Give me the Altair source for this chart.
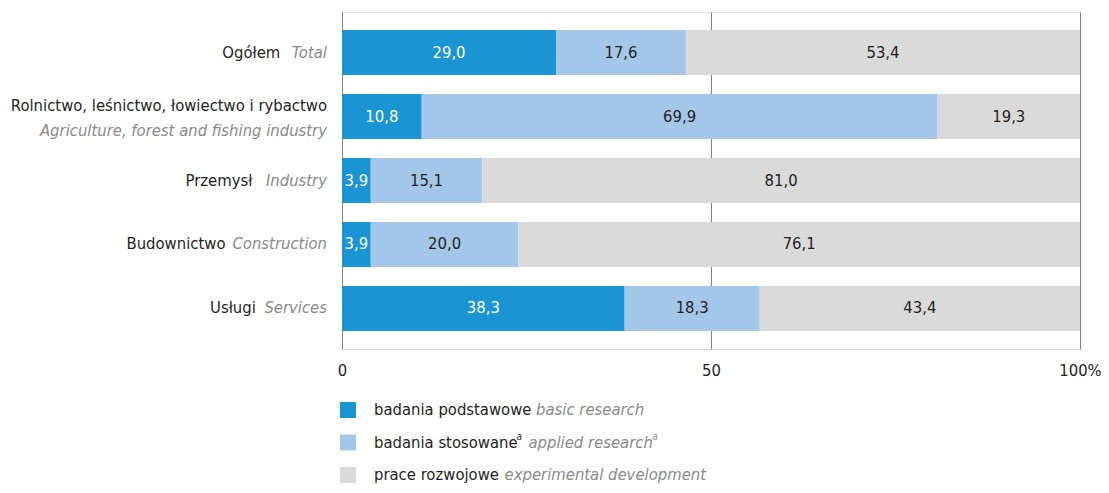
import altair as alt
import pandas as pd

# ---------------- data ----------------
categories_pl = ["Ogółem", "Rolnictwo, leśnictwo, łowiectwo i rybactwo", "Przemysł", "Budownictwo", "Usługi"]
categories_en = ["Total", "Agriculture, forest and fishing industry", "Industry", "Construction", "Services"]
series_pl = ["badania podstawowe", "badania stosowane", "prace rozwojowe"]
series_en = ["basic research", "applied research", "experimental development"]
series_sup = ["", "a", ""]
basic = [29.0, 10.8, 3.9, 3.9, 38.3]
applied = [17.6, 69.9, 15.1, 20.0, 18.3]
experimental = [53.4, 19.3, 81.0, 76.1, 43.4]
axis_ticks = [0, 50, 100]

# ---------------- style ----------------
COLORS = ["#1a94d2", "#a3c7e8", "#dadada"]
LABEL_COLORS = ["#ffffff", "#231f20", "#231f20"]
FONT = "DejaVu Sans Condensed"
DARK = "#231f20"
GREY = "#8a8a8a"
FS = 16.5
W, H = 738, 337
WRAPPED = {"Rolnictwo, leśnictwo, łowiectwo i rybactwo"}

# DejaVu Sans advance widths (em), condensed by ~0.88
_W = {
    "a": .613, "b": .635, "c": .550, "d": .635, "e": .615, "f": .352, "g": .635, "h": .634,
    "i": .278, "j": .278, "k": .579, "l": .278, "m": .974, "n": .634, "o": .612, "p": .635,
    "q": .635, "r": .411, "s": .521, "t": .392, "u": .634, "v": .592, "w": .818, "x": .592,
    "y": .592, "z": .525, " ": .318, ",": .318, ".": .318,
    "ą": .613, "ę": .615, "ó": .612, "ś": .521, "ł": .278, "ń": .634, "ż": .525,
}


def text_width(s, size):
    total = 0.0
    for ch in s:
        if ch.isupper():
            total += 0.70
        else:
            total += _W.get(ch, 0.6)
    return total * 0.88 * size


# ---------------- table ----------------
rows = []
for i, cat in enumerate(categories_pl):
    start = 0.0
    for j, vals in enumerate([basic, applied, experimental]):
        v = vals[i]
        rows.append(dict(cat=cat, series=series_pl[j], order=j, x0=start, x1=start + v,
                         mid=start + v / 2, label=f"{v:.1f}".replace(".", ","),
                         tcolor=LABEL_COLORS[j]))
        start += v
df = pd.DataFrame(rows)

yscale = alt.Scale(domain=categories_pl, paddingInner=0.3, paddingOuter=0.283)
xscale = alt.Scale(domain=[0, 100], nice=False)

bars = alt.Chart(df).mark_bar().encode(
    y=alt.Y("cat:N", scale=yscale, axis=None, sort=categories_pl),
    x=alt.X("x0:Q", scale=xscale,
            axis=alt.Axis(values=axis_ticks, grid=True, gridColor="#808080", gridWidth=1,
                          domain=False, ticks=False, title=None, labelFlush=False,
                          labelExpr="datum.value == 100 ? '100%' : datum.label",
                          labelFont=FONT, labelFontSize=FS, labelColor=DARK, labelPadding=13)),
    x2="x1:Q",
    color=alt.Color("series:N", scale=alt.Scale(domain=series_pl, range=COLORS), legend=None),
)

values_text = alt.Chart(df).mark_text(font=FONT, fontSize=FS, baseline="middle").encode(
    y=alt.Y("cat:N", scale=yscale, sort=categories_pl),
    x=alt.X("mid:Q", scale=xscale),
    text="label:N",
    color=alt.Color("tcolor:N", scale=None),
)

layers = [bars, values_text]

# ---------------- category labels ----------------
GAP = 9
RIGHT = -15
for pl, en in zip(categories_pl, categories_en):
    d = pd.DataFrame({"cat": [pl], "pl": [pl], "en": [en]})
    if pl in WRAPPED:
        pl_mark = alt.Chart(d).mark_text(font=FONT, fontSize=FS, align="right", baseline="middle",
                                         color=DARK, dy=-11)
        en_mark = alt.Chart(d).mark_text(font=FONT, fontSize=FS, align="right", baseline="middle",
                                         color=GREY, fontStyle="italic", dy=14)
        pl_x = RIGHT
    else:
        pl_mark = alt.Chart(d).mark_text(font=FONT, fontSize=FS, align="right", baseline="middle",
                                         color=DARK)
        en_mark = alt.Chart(d).mark_text(font=FONT, fontSize=FS, align="right", baseline="middle",
                                         color=GREY, fontStyle="italic")
        pl_x = RIGHT - GAP - text_width(en, FS)
    layers.append(pl_mark.encode(y=alt.Y("cat:N", scale=yscale, sort=categories_pl),
                                 x=alt.value(pl_x), text="pl:N"))
    layers.append(en_mark.encode(y=alt.Y("cat:N", scale=yscale, sort=categories_pl),
                                 x=alt.value(RIGHT), text="en:N"))

# ---------------- legend ----------------
LEG_Y0 = 398
LEG_STEP = 32.5
LEG_TX = 32
for k, (spl, sen, sup) in enumerate(zip(series_pl, series_en, series_sup)):
    yy = LEG_Y0 + k * LEG_STEP
    d = pd.DataFrame({"pl": [spl], "en": [sen], "sup": [sup], "c": [COLORS[k]]})
    layers.append(alt.Chart(d).mark_square(size=256, opacity=1).encode(
        x=alt.value(6), y=alt.value(yy), color=alt.Color("c:N", scale=None)))
    layers.append(alt.Chart(d).mark_text(font=FONT, fontSize=FS, align="left", baseline="middle",
                                         color=DARK).encode(
        x=alt.value(LEG_TX), y=alt.value(yy), text="pl:N"))
    pl_w = text_width(spl, FS)
    en_x = LEG_TX + pl_w + 8
    if sup:
        layers.append(alt.Chart(d).mark_text(font=FONT, fontSize=10, align="left", baseline="middle",
                                             color=DARK, fontStyle="italic").encode(
            x=alt.value(LEG_TX + pl_w + 2), y=alt.value(yy - 6), text="sup:N"))
        en_x += 6
    layers.append(alt.Chart(d).mark_text(font=FONT, fontSize=FS, align="left", baseline="middle",
                                         color=GREY, fontStyle="italic").encode(
        x=alt.value(en_x), y=alt.value(yy), text="en:N"))
    if sup:
        en_w = text_width(sen, FS)
        layers.append(alt.Chart(d).mark_text(font=FONT, fontSize=10, align="left", baseline="middle",
                                             color=GREY, fontStyle="italic").encode(
            x=alt.value(en_x + en_w + 2), y=alt.value(yy - 6), text="sup:N"))

chart = alt.layer(*layers).properties(
    width=W, height=H,
    autosize=alt.AutoSizeParams(type="none"),
    padding={"left": 334, "top": 4, "right": 21, "bottom": 136},
).configure_view(stroke=None).configure(background="white")

chart.save("out.html", embed_options={"renderer": "svg", "actions": False})
